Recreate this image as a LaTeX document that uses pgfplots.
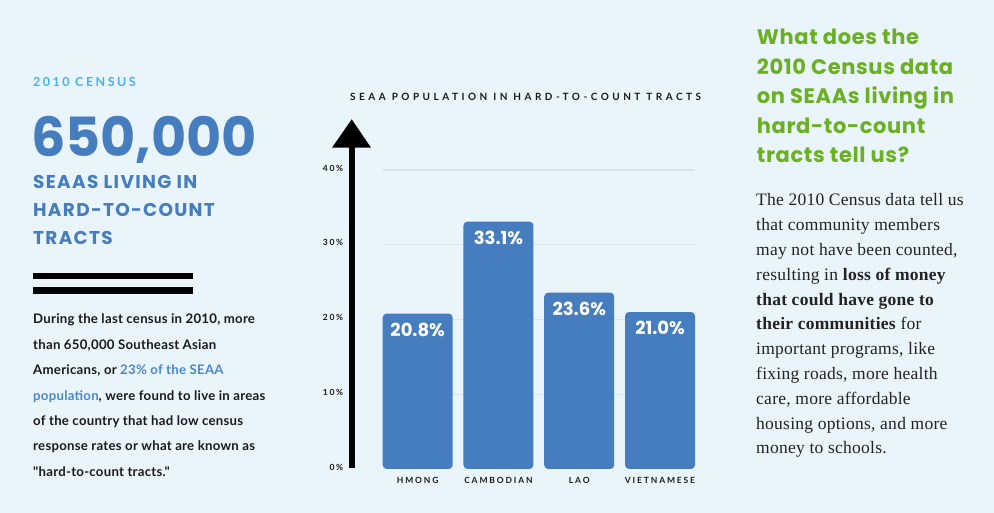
\documentclass[border=0pt]{standalone}
\usepackage{pgfplots}
\pgfplotsset{compat=1.18}
\usepackage{fontspec}
\setmainfont{Lato}
\newfontfamily\pop{Poppins}
\newfontfamily\serif{Liberation Serif}
\definecolor{bg}{HTML}{EAF5FB}
\definecolor{barblue}{HTML}{467DBE}
\definecolor{sky}{HTML}{45B2F2}
\definecolor{grn}{HTML}{6AB022}
\definecolor{gridc}{HTML}{D8E5EC}
\definecolor{link}{HTML}{4A86CF}
\definecolor{ink}{HTML}{1A1A1A}
\definecolor{body}{HTML}{222222}
\begin{document}
\begin{tikzpicture}[x=1pt,y=1pt]
\fill[bg] (0,0) rectangle (994,513);
% ---------- left panel ----------
\node[anchor=base west, inner sep=0, text=sky, font=\fontsize{12.5}{12.5}\selectfont\bfseries\addfontfeature{LetterSpace=20}] at (33,{513-86.7}) {2010 CENSUS};
\node[anchor=base west, inner sep=0, text=barblue, font=\pop\fontsize{54}{54}\selectfont\bfseries] at (31,{513-156.7}) {650,000};
\begin{scope}[every node/.style={anchor=base west, inner sep=0, text=barblue, font=\pop\fontsize{18.5}{18.5}\selectfont\bfseries\addfontfeature{LetterSpace=7}}]
\node at (33,{513-189}) {SEAAS LIVING IN};
\node at (33,{513-216.7}) {HARD-TO-COUNT};
\node at (33,{513-245}) {TRACTS};
\end{scope}
\fill[black] (33.3,{513-279}) rectangle (193.3,{513-272.7});
\fill[black] (33.3,{513-293.7}) rectangle (193.3,{513-287.3});
\begin{scope}[every node/.style={anchor=base west, inner sep=0, text=ink, font=\fontsize{13.2}{13.2}\selectfont\bfseries\addfontfeature{LetterSpace=2}}]
\node at (33,{513-324}) {During the last census in 2010, more};
\node at (33,{513-349.4}) {than 650,000 Southeast Asian};
\node at (33,{513-374.8}) {Americans, or \textcolor{link}{23\% of the SEAA}};
\node at (33,{513-400.2}) {\textcolor{link}{population}, were found to live in areas};
\node at (33,{513-425.6}) {of the country that had low census};
\node at (33,{513-451}) {response rates or what are known as};
\node at (33,{513-476.4}) {\addfontfeature{Ligatures=TeXOff}"hard-to-count tracts."};
\end{scope}
% ---------- chart ----------
\node[anchor=base west, inner sep=0, text=ink, font=\fontsize{10}{10}\selectfont\bfseries\addfontfeature{LetterSpace=35}] at (350,{513-100.7}) {SEAA POPULATION IN HARD-TO-COUNT TRACTS};
\begin{axis}[
  at={(382.7pt,44pt)}, anchor=south west,
  scale only axis, width=312.3pt, height=299pt,
  xmin=-0.433, xmax=3.433, ymin=0, ymax=40,
  ybar, bar width=70pt,
  axis line style={draw=none}, major tick length=0pt,
  /pgf/number format/assume math mode=true,
  ytick={10,20,30,40}, extra y ticks={0}, extra y tick style={grid=none},
  ymajorgrids, grid style={gridc, line width=1.2pt},
  yticklabel={\pgfmathprintnumber{\tick}\%},
  yticklabel style={anchor=east, inner sep=0pt, xshift=-39.4pt, yshift=2pt, text=ink,
    font=\fontsize{8.5}{8.5}\selectfont\bfseries\addfontfeature{LetterSpace=20}},
  xtick={0,1,2,3}, xticklabels={HMONG,CAMBODIAN,LAO,VIETNAMESE},
  xticklabel style={anchor=base, inner sep=0pt, yshift=-14.3pt, text=ink,
    font=\fontsize{8.5}{8.5}\selectfont\bfseries\addfontfeature{LetterSpace=22}},
  nodes near coords={\pgfmathprintnumber[fixed,fixed zerofill,precision=1]{\pgfplotspointmeta}\%},
  every node near coord/.append style={anchor=base, yshift=-22.5pt, inner sep=0pt, text=white,
    font=\pop\fontsize{18}{18}\selectfont\bfseries},
  clip=false,
]
\addplot[fill=barblue, draw=none, rounded corners=4pt] coordinates {(0,20.8) (1,33.1) (2,23.6) (3,21.0)};
\end{axis}
% axis arrow
\fill[black] (349,45) rectangle (354.5,366);
\fill[black] (332,365.3) -- (371,365.3) -- (351.7,393.7) -- cycle;
% ---------- right panel ----------
\begin{scope}[every node/.style={anchor=base west, inner sep=0, text=grn, font=\pop\fontsize{21}{21}\selectfont\bfseries\addfontfeature{LetterSpace=3}}]
\node at (756.7,{513-45}) {What does the};
\node at (756.7,{513-74.5}) {2010 Census data};
\node at (756.7,{513-104}) {on SEAAs living in};
\node at (756.7,{513-133.3}) {hard-to-count};
\node at (756.7,{513-162.3}) {tracts tell us?};
\end{scope}
\begin{scope}[every node/.style={anchor=base west, inner sep=0, text=body, font=\serif\fontsize{17.5}{17.5}\selectfont\addfontfeature{LetterSpace=1.5}}]
\node at (756,{513-206}) {The 2010 Census data tell us};
\node at (756,{513-230.8}) {that community members};
\node at (756,{513-255.6}) {may not have been counted,};
\node at (756,{513-280.4}) {resulting in \textbf{loss of money}};
\node at (756,{513-305.2}) {\textbf{that could have gone to}};
\node at (756,{513-330}) {\textbf{their communities} for};
\node at (756,{513-354.8}) {important programs, like};
\node at (756,{513-379.6}) {fixing roads, more health};
\node at (756,{513-404.4}) {care, more affordable};
\node at (756,{513-429.2}) {housing options, and more};
\node at (756,{513-454}) {money to schools.};
\end{scope}
\end{tikzpicture}
\end{document}
